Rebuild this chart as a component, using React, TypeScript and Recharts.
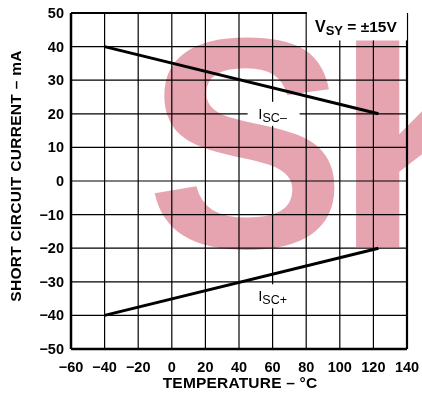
import {
  CartesianGrid,
  Line,
  LineChart,
  ReferenceDot,
  ReferenceLine,
  XAxis,
  YAxis,
} from "recharts"

// temperatur (°C) dan arus hubung singkat (mA)
const temps = [-40, 123]
const iscMinus = [40, 20]
const iscPlus = [-40, -20]
const xTicks = [-60, -40, -20, 0, 20, 40, 60, 80, 100, 120, 140]
const yTicks = [-50, -40, -30, -20, -10, 0, 10, 20, 30, 40, 50]

const data = temps.map((t, i) => ({ t, iscMinus: iscMinus[i], iscPlus: iscPlus[i] }))

const FONT = "'Liberation Sans', Arial, sans-serif"
const fmt = (v: number) => String(v).replace("-", "\u2212")

function XTick({ x, y, payload }: any) {
  return (
    <text x={x} y={y + 15} textAnchor="middle" fontFamily={FONT} fontWeight={700} fontSize={14.5} fill="#000">
      {fmt(payload.value)}
    </text>
  )
}

function YTick({ x, y, payload }: any) {
  return (
    <text x={x + 1} y={y + 5} textAnchor="end" fontFamily={FONT} fontWeight={700} fontSize={14.5} fill="#000">
      {fmt(payload.value)}
    </text>
  )
}

function SubLabel({ cx, cy, main, sub, x0, x1 }: any) {
  return (
    <g>
      <rect x={cx - x0} y={cy - 12} width={x0 + x1} height={24} fill="#fff" />
      <text x={cx} y={cy + 5} textAnchor="middle" fontFamily={FONT} fill="#000">
        <tspan fontSize={15}>{main}</tspan>
        <tspan fontSize={12.5} dy={3}>{sub}</tspan>
      </text>
    </g>
  )
}

function VsyLabel({ cx, cy }: any) {
  return (
    <g>
      <rect x={cx - 49} y={cy - 15} width={100} height={29} fill="#fff" />
      <text x={cx} y={cy + 6} textAnchor="middle" fontFamily={FONT} fontWeight={700} fill="#000">
        <tspan fontSize={16}>V</tspan>
        <tspan fontSize={13} dy={3}>SY</tspan>
        <tspan fontSize={15.5} dy={-3}> = ±15V</tspan>
      </text>
    </g>
  )
}

export default function App() {
  return (
    <div style={{ position: "absolute", left: 0, top: 0, width: 422, height: 393, background: "#fff" }}>
      <LineChart
        width={422}
        height={393}
        data={data}
        margin={{ top: 13, right: 15, bottom: 24, left: 21 }}
      >
        <CartesianGrid stroke="#000" strokeWidth={1.2} strokeOpacity={1} />
        <XAxis
          type="number"
          dataKey="t"
          domain={[-60, 140]}
          ticks={xTicks}
          tickLine={false}
          axisLine={{ stroke: "#000", strokeWidth: 2.5 }}
          height={20}
          tick={<XTick />}
        />
        <YAxis
          type="number"
          domain={[-50, 50]}
          ticks={yTicks}
          tickLine={false}
          axisLine={{ stroke: "#000", strokeWidth: 2.5 }}
          width={50}
          tick={<YTick />}
        />
        <ReferenceLine x={140} stroke="#000" strokeWidth={2.2} />
        <ReferenceLine y={50} stroke="#000" strokeWidth={2.2} />
        <Line
          dataKey="iscMinus"
          stroke="#000"
          strokeWidth={3}
          dot={false}
          isAnimationActive={false}
        />
        <Line
          dataKey="iscPlus"
          stroke="#000"
          strokeWidth={3}
          dot={false}
          isAnimationActive={false}
        />
        <ReferenceDot
          x={60}
          y={20}
          r={0}
          shape={(p: any) => <SubLabel cx={p.cx} cy={p.cy} main="I" sub="SC–" x0={25} x1={27} />}
        />
        <ReferenceDot
          x={60}
          y={-34.3}
          r={0}
          shape={(p: any) => <SubLabel cx={p.cx} cy={p.cy} main="I" sub="SC+" x0={16} x1={18} />}
        />
        <ReferenceDot x={109.6} y={46} r={0} shape={(p: any) => <VsyLabel cx={p.cx} cy={p.cy} />} />
      </LineChart>
      <div
        style={{
          position: "absolute",
          left: 0,
          top: 0,
          width: 422,
          height: 393,
          pointerEvents: "none",
        }}
      >
        <svg width={422} height={393} style={{ display: "block" }}>
          <text x={15} y={176} transform="rotate(-90 15 176)" textAnchor="middle" dominantBaseline="central" fontFamily={FONT} fontWeight={700} fontSize={15.5} letterSpacing={0.3} fill="#000">
            SHORT CIRCUIT CURRENT – mA
          </text>
          <text x={240} y={382} textAnchor="middle" dominantBaseline="central" fontFamily={FONT} fontWeight={700} fontSize={15.5} letterSpacing={0.2} fill="#000">
            TEMPERATURE – °C
          </text>
        </svg>
      </div>
      <div
        style={{
          position: "absolute",
          left: 0,
          top: 0,
          width: 422,
          height: 393,
          pointerEvents: "none",
          mixBlendMode: "multiply",
          overflow: "hidden",
        }}
      >
        <svg width={422} height={393} style={{ display: "block" }}>
          <text y={247} fontFamily={FONT} fontWeight={700} fontSize={300} fill="#e6a4b1">
            <tspan x={146}>S</tspan>
            <tspan x={336}>K</tspan>
          </text>
        </svg>
      </div>
    </div>
  )
}
